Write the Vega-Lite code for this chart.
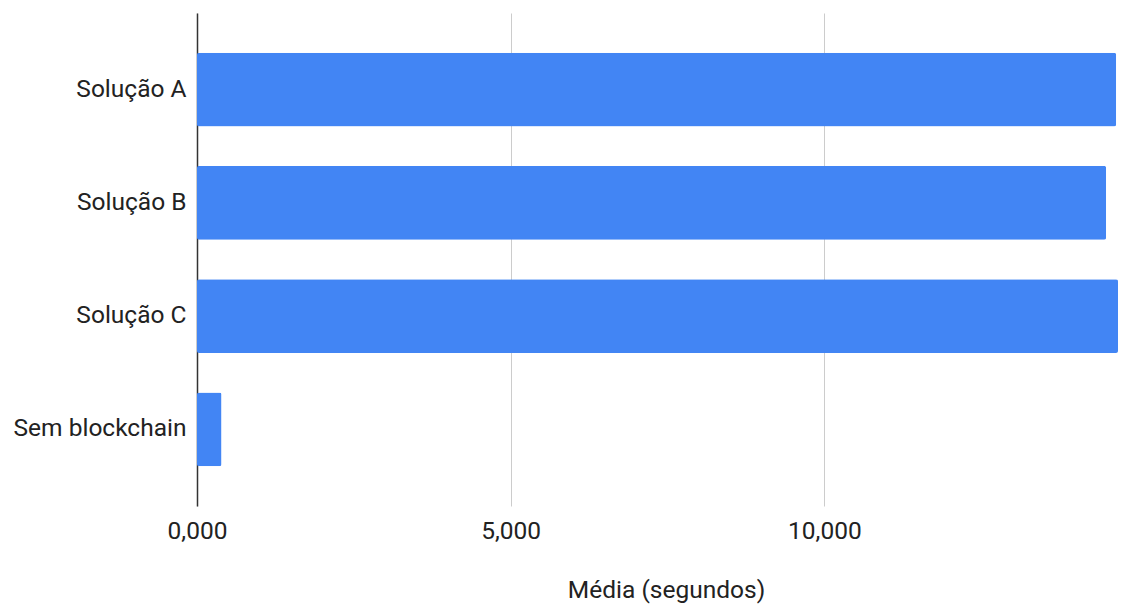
{
  "$schema": "https://vega.github.io/schema/vega-lite/v6.json",
  "autosize": "none",
  "width": 921,
  "height": 493,
  "padding": {"left": 197, "top": 13, "right": 10, "bottom": 104},
  "background": "white",
  "config": {"view": {"stroke": null}, "font": "Roboto"},
  "data": {
    "values": [
      {"solucao": "Solução A", "media": 14.65},
      {"solucao": "Solução B", "media": 14.49},
      {"solucao": "Solução C", "media": 14.68},
      {"solucao": "Sem blockchain", "media": 0.39}
    ]
  },
  "mark": {"type": "bar", "color": "#4285F4", "cornerRadius": 2},
  "encoding": {
    "y": {
      "field": "solucao",
      "type": "nominal",
      "sort": null,
      "scale": {"paddingInner": 0.347, "paddingOuter": 0.35},
      "axis": {
        "title": null,
        "ticks": false,
        "domain": true,
        "domainColor": "#333333",
        "domainWidth": 1.5,
        "labelPadding": 11,
        "labelFontSize": 24.5,
        "labelColor": "#222222",
        "labelFont": "Roboto",
        "labelLimit": 300,
        "grid": false
      }
    },
    "x": {
      "field": "media",
      "type": "quantitative",
      "scale": {"domain": [0, 14.68], "nice": false, "zero": true},
      "axis": {
        "values": [0, 5, 10],
        "labelExpr": "replace(format(datum.value, '.3f'), '.', ',')",
        "title": "Média (segundos)",
        "titleFont": "Roboto",
        "titleFontSize": 24.5,
        "titleFontWeight": "normal",
        "titleColor": "#222222",
        "titlePadding": 36,
        "titleX": 469,
        "labelFont": "Roboto",
        "labelFontSize": 24.5,
        "labelColor": "#222222",
        "labelPadding": 13,
        "labelFlush": false,
        "ticks": false,
        "domain": false,
        "grid": true,
        "gridColor": "#cccccc",
        "gridWidth": 1
      }
    }
  }
}
